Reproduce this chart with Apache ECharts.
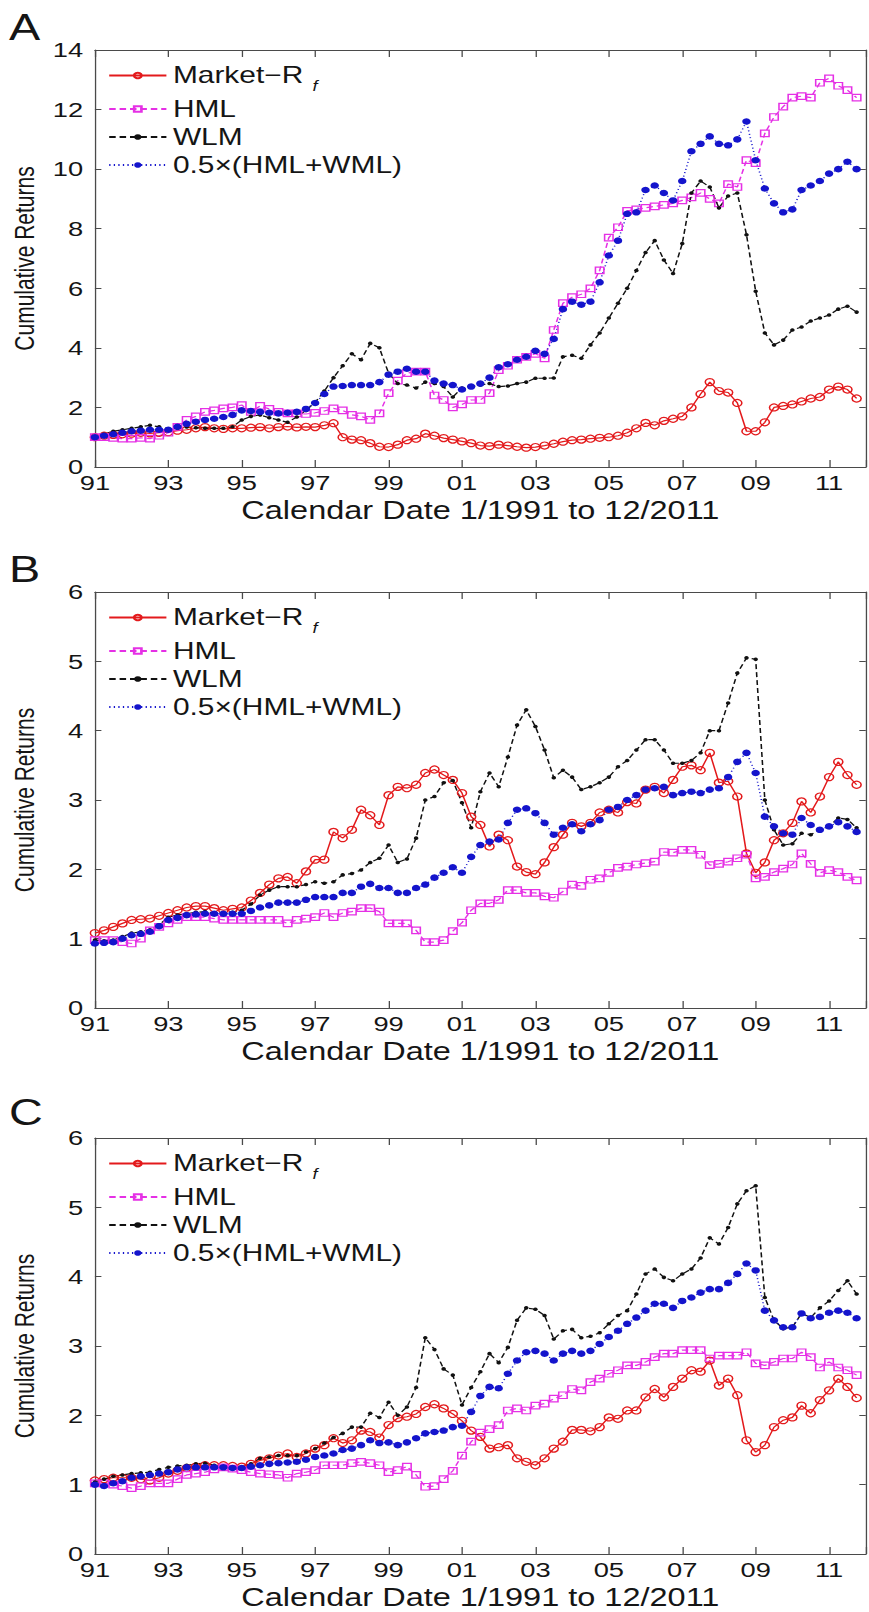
<!DOCTYPE html>
<html>
<head>
<meta charset="utf-8">
<title>Cumulative Returns 1991-2011</title>
<script src="https://cdn.jsdelivr.net/npm/echarts/dist/echarts.min.js"></script>
<style>
  html, body { margin: 0; padding: 0; background: #fff; overflow: hidden; }
  #stage { width: 869px; height: 1612px; overflow: hidden; position: relative; }
  /* the figure is laid out in a narrower frame and widened, like the printed figure */
  #chart { width: 669px; height: 1612px; transform: scaleX(1.3); transform-origin: 0 0; }
</style>
</head>
<body>
<div id="stage"><div id="chart"></div></div>
<script>
// Quarterly cumulative returns, 1991Q1 .. 2011Q4 (84 observations each)
const mktA = [1.00,1.05,1.08,1.10, 1.12,1.15,1.13,1.15, 1.17,1.22,1.25,1.30, 1.34,1.30,1.28,1.30, 1.30,1.32,1.34,1.30, 1.34,1.36,1.33,1.35, 1.34,1.40,1.47,1.00, 0.92,0.90,0.80,0.68, 0.67,0.75,0.90,0.95, 1.12,1.05,0.97,0.92, 0.86,0.80,0.72,0.70, 0.75,0.72,0.68,0.65, 0.67,0.72,0.78,0.85, 0.90,0.92,0.95,0.98, 1.00,1.05,1.15,1.30, 1.48,1.40,1.55,1.62, 1.70,2.00,2.45,2.85, 2.55,2.50,2.15,1.20, 1.20,1.50,2.00,2.05, 2.10,2.20,2.30,2.35, 2.60,2.70,2.60,2.30];
const hmlA = [1.00,1.00,0.98,0.95, 0.95,0.98,0.95,1.05, 1.15,1.35,1.58,1.70, 1.85,1.90,1.97,2.00, 2.08,1.85,2.05,1.95, 1.85,1.80,1.80,1.78, 1.82,1.88,1.97,1.90, 1.75,1.70,1.58,1.80, 2.48,2.90,3.15,3.20, 3.20,2.40,2.25,2.00, 2.10,2.25,2.25,2.48, 3.25,3.40,3.60,3.70, 3.80,3.65,4.60,5.50, 5.70,5.80,6.00,6.60, 7.70,8.05,8.60,8.65, 8.70,8.75,8.80,8.85, 8.95,9.05,9.20,9.00, 8.85,9.50,9.40,10.30, 10.20,11.20,11.75,12.10, 12.40,12.45,12.40,12.90, 13.05,12.80,12.65,12.40];
const wlmA = [1.00,1.10,1.20,1.25, 1.30,1.35,1.40,1.35, 1.28,1.30,1.34,1.32, 1.30,1.30,1.30,1.35, 1.58,1.70,1.75,1.65, 1.58,1.50,1.68,1.90, 2.17,2.55,3.00,3.40, 3.80,3.60,4.15,4.00, 3.15,2.80,2.75,2.65, 2.85,2.80,2.70,2.35, 2.65,2.70,2.75,2.80, 2.70,2.72,2.80,2.85, 2.98,2.98,2.99,3.70, 3.75,3.65,4.10,4.50, 5.00,5.50,6.00,6.60, 7.20,7.60,6.95,6.50, 7.50,9.20,9.60,9.40, 8.70,9.10,9.20,7.80, 5.90,4.50,4.10,4.26, 4.60,4.70,4.90,5.00, 5.10,5.30,5.40,5.20];
const mixA = [1.00,1.05,1.10,1.15, 1.20,1.22,1.25,1.25, 1.25,1.35,1.45,1.52, 1.58,1.62,1.68,1.75, 1.90,1.88,1.85,1.82, 1.80,1.82,1.85,1.95, 2.15,2.45,2.70,2.72, 2.75,2.75,2.75,2.85, 3.10,3.20,3.30,3.20, 3.20,2.90,2.80,2.75, 2.60,2.70,2.80,3.00, 3.35,3.45,3.60,3.70, 3.90,3.80,4.30,5.30, 5.55,5.45,5.55,6.20, 7.10,7.60,8.50,8.55, 9.30,9.45,9.20,8.95, 9.60,10.60,10.85,11.10, 10.85,10.80,11.00,11.60, 10.30,9.35,8.85,8.55, 8.65,9.30,9.45,9.60, 9.85,10.00,10.25,10.00];

const mktB = [1.08,1.12,1.17,1.22, 1.27,1.28,1.29,1.33, 1.37,1.41,1.45,1.47, 1.47,1.44,1.41,1.43, 1.45,1.55,1.66,1.78, 1.87,1.89,1.80,1.97, 2.14,2.14,2.54,2.45, 2.57,2.86,2.78,2.64, 3.07,3.19,3.17,3.22, 3.39,3.44,3.36,3.29, 3.10,2.76,2.64,2.33, 2.50,2.42,2.04,1.96, 1.93,2.10,2.32,2.50, 2.67,2.62,2.67,2.82, 2.86,2.82,2.97,2.95, 3.15,3.19,3.10,3.29, 3.48,3.50,3.43,3.68, 3.25,3.27,3.05,2.23, 1.95,2.10,2.42,2.52, 2.67,2.98,2.82,3.05, 3.33,3.55,3.36,3.22];
const hmlB = [0.98,0.98,0.98,0.95, 0.93,1.00,1.12,1.17, 1.22,1.27,1.31,1.31, 1.31,1.29,1.27,1.27, 1.27,1.27,1.27,1.27, 1.27,1.22,1.27,1.29, 1.31,1.37,1.31,1.37, 1.39,1.44,1.44,1.39, 1.22,1.22,1.22,1.12, 0.95,0.95,0.98,1.11, 1.23,1.41,1.51,1.51, 1.56,1.70,1.70,1.66, 1.66,1.61,1.59,1.68, 1.78,1.76,1.85,1.87, 1.95,2.02,2.04,2.07, 2.09,2.11,2.25,2.24, 2.28,2.28,2.21,2.06, 2.08,2.11,2.16,2.21, 1.87,1.89,1.96,2.01, 2.07,2.23,2.08,1.95, 1.99,1.96,1.89,1.84];
const wlmB = [0.98,0.97,0.98,1.03, 1.08,1.10,1.13,1.20, 1.31,1.34,1.36,1.38, 1.39,1.37,1.36,1.38, 1.41,1.50,1.63,1.70, 1.75,1.75,1.75,1.78, 1.82,1.80,1.82,1.92, 1.94,1.99,2.10,2.16, 2.35,2.10,2.15,2.45, 3.00,3.05,3.25,3.28, 2.96,2.60,3.12,3.39, 3.19,3.62,4.08,4.30, 4.06,3.72,3.32,3.43, 3.33,3.15,3.19,3.25, 3.33,3.48,3.57,3.72, 3.87,3.87,3.72,3.53, 3.53,3.57,3.68,4.00, 4.00,4.40,4.83,5.05, 5.03,3.00,2.57,2.35, 2.37,2.52,2.50,2.57, 2.62,2.74,2.72,2.60];
const mixB = [0.93,0.94,0.95,1.00, 1.05,1.07,1.10,1.18, 1.27,1.30,1.34,1.35, 1.36,1.36,1.36,1.36, 1.36,1.40,1.45,1.48, 1.52,1.52,1.52,1.56, 1.60,1.60,1.60,1.66, 1.66,1.75,1.79,1.73, 1.73,1.66,1.66,1.73, 1.78,1.88,1.95,2.03, 1.95,2.18,2.35,2.40, 2.43,2.67,2.86,2.88, 2.81,2.67,2.50,2.60, 2.65,2.55,2.65,2.71, 2.86,2.90,3.00,3.07, 3.15,3.17,3.19,3.07, 3.10,3.12,3.10,3.15, 3.17,3.33,3.55,3.68, 3.39,2.76,2.62,2.52, 2.50,2.74,2.64,2.57, 2.62,2.68,2.62,2.54];

const mktC = [1.06,1.08,1.10,1.10, 1.10,1.08,1.06,1.10, 1.16,1.20,1.24,1.26, 1.28,1.28,1.28,1.27, 1.26,1.30,1.35,1.38, 1.42,1.45,1.40,1.45, 1.52,1.57,1.67,1.60, 1.64,1.78,1.76,1.68, 1.86,1.96,1.98,2.02, 2.12,2.16,2.10,2.02, 1.92,1.78,1.69,1.52, 1.54,1.57,1.38,1.33, 1.28,1.38,1.52,1.62, 1.79,1.79,1.77,1.83, 1.97,1.95,2.07,2.07, 2.26,2.38,2.26,2.41, 2.53,2.65,2.63,2.79, 2.43,2.53,2.29,1.64, 1.47,1.57,1.83,1.93, 1.97,2.14,2.03,2.22, 2.36,2.53,2.41,2.25];
const hmlC = [1.02,1.02,1.00,0.98, 0.95,0.98,1.02,1.02, 1.02,1.08,1.14,1.16, 1.18,1.22,1.25,1.23, 1.21,1.18,1.16,1.15, 1.14,1.10,1.16,1.18, 1.21,1.28,1.28,1.28, 1.31,1.33,1.31,1.28, 1.18,1.21,1.26,1.14, 0.97,0.98,1.08,1.20, 1.42,1.62,1.75,1.80, 1.86,2.07,2.10,2.07, 2.14,2.17,2.24,2.29, 2.38,2.36,2.48,2.53, 2.60,2.65,2.72,2.72, 2.77,2.84,2.89,2.89, 2.94,2.94,2.94,2.82, 2.86,2.86,2.86,2.91, 2.75,2.72,2.77,2.82, 2.82,2.91,2.84,2.69, 2.77,2.69,2.65,2.58];
const wlmC = [1.04,1.08,1.12,1.14, 1.16,1.17,1.18,1.22, 1.25,1.27,1.28,1.30, 1.31,1.28,1.25,1.25, 1.25,1.30,1.38,1.40, 1.42,1.42,1.42,1.47, 1.52,1.60,1.68,1.74, 1.83,1.83,2.03,1.97, 2.19,2.00,2.12,2.40, 3.12,2.95,2.67,2.58, 2.15,2.40,2.63,2.89, 2.76,2.98,3.37,3.55, 3.53,3.44,3.10,3.22, 3.24,3.12,3.14,3.19, 3.32,3.44,3.51,3.75, 4.04,4.11,3.99,3.94, 4.04,4.11,4.27,4.56, 4.47,4.71,5.05,5.24, 5.31,3.70,3.37,3.25, 3.27,3.47,3.41,3.55, 3.65,3.80,3.94,3.75];
const mixC = [1.00,0.98,1.02,1.05, 1.10,1.12,1.14,1.16, 1.18,1.22,1.25,1.25, 1.25,1.25,1.25,1.24, 1.24,1.26,1.28,1.30, 1.31,1.32,1.33,1.36, 1.40,1.42,1.45,1.50, 1.52,1.57,1.64,1.60, 1.61,1.57,1.61,1.67, 1.74,1.76,1.78,1.83, 1.85,2.05,2.28,2.41, 2.39,2.60,2.79,2.91, 2.93,2.89,2.79,2.89, 2.93,2.89,2.93,3.03, 3.13,3.22,3.32,3.41, 3.51,3.61,3.61,3.55, 3.65,3.70,3.77,3.82, 3.82,3.91,4.04,4.19, 4.09,3.51,3.37,3.27, 3.27,3.47,3.40,3.42, 3.48,3.51,3.48,3.40];

// Axis tick labels (x ticks every two years from Jan 1991)
const xTickLabels = ['91', '93', '95', '97', '99', '01', '03', '05', '07', '09', '11'];
const seriesNames = ['Market-Rf', 'HML', 'WLM', '0.5×(HML+WML)'];
const panelLetters = ['A', 'B', 'C'];
const yMaxes = [14, 6, 6];
const yIntervals = [2, 1, 1];

const panelData = [
  [mktA, hmlA, wlmA, mixA],
  [mktB, hmlB, wlmB, mixB],
  [mktC, hmlC, wlmC, mixC]
];

// time of each observation, in years after January 1991
const quarterOffsets = mktA.map((_, i) => i / 4);

const FONT = '"Liberation Sans", Arial, Helvetica, sans-serif';
const AXIS_COLOR = '#4a4a4a';
const TEXT_COLOR = '#151515';

const seriesStyles = [
  { color: '#e31a1c', lineType: 'solid', symbol: 'circle', size: 7, hollow: true },
  { color: '#e530e5', lineType: [5, 3], symbol: 'rect', size: 6.5, hollow: true },
  { color: '#111111', lineType: [5, 3], symbol: 'circle', size: 3.5, hollow: false },
  { color: '#1414cc', lineType: [1, 2.5], symbol: 'circle', size: 6.5, hollow: false }
];

const panels = [
  { top: 50, height: 417, legendTop: 64, letterTop: 9 },
  { top: 592, height: 416, legendTop: 606, letterTop: 551 },
  { top: 1138, height: 416, legendTop: 1152, letterTop: 1094 }
];

const grid = [], xAxis = [], yAxis = [], series = [], legend = [], title = [];

panels.forEach((p, pi) => {
  grid.push({ left: 71, right: -5, top: p.top, height: p.height, containLabel: false });

  const tickStyle = { lineStyle: { color: AXIS_COLOR, width: 1 } };
  // bottom and top x axes (box with inward ticks)
  xAxis.push({
    type: 'value', gridIndex: pi, min: 0, max: 21, interval: 2, position: 'bottom',
    axisLine: { show: true, onZero: false, lineStyle: { color: AXIS_COLOR, width: 1 } },
    axisTick: Object.assign({ show: true, inside: true, length: 7 }, tickStyle),
    splitLine: { show: false },
    axisLabel: {
      show: true, margin: 5, color: TEXT_COLOR, fontSize: 21, fontFamily: FONT,
      formatter: v => (v % 2 === 0 && xTickLabels[v / 2] !== undefined) ? xTickLabels[v / 2] : ''
    },
    name: 'Calendar Date 1/1991 to 12/2011', nameLocation: 'middle', nameGap: 31,
    nameTextStyle: { fontSize: 25, fontFamily: FONT, color: TEXT_COLOR }
  });
  xAxis.push({
    type: 'value', gridIndex: pi, min: 0, max: 21, interval: 2, position: 'top',
    axisLine: { show: true, onZero: false, lineStyle: { color: AXIS_COLOR, width: 1 } },
    axisTick: Object.assign({ show: true, inside: true, length: 7 }, tickStyle),
    splitLine: { show: false }, axisLabel: { show: false }
  });
  // left and right y axes
  yAxis.push({
    type: 'value', gridIndex: pi, min: 0, max: yMaxes[pi], interval: yIntervals[pi], position: 'left',
    axisLine: { show: true, onZero: false, lineStyle: { color: AXIS_COLOR, width: 1 } },
    axisTick: Object.assign({ show: true, inside: true, length: 5 }, tickStyle),
    splitLine: { show: false },
    axisLabel: { show: true, margin: 9, color: TEXT_COLOR, fontSize: 21, fontFamily: FONT },
    name: 'Cumulative Returns', nameLocation: 'middle', nameGap: 44,
    nameTextStyle: { fontSize: 21, fontFamily: FONT, color: TEXT_COLOR }
  });
  yAxis.push({
    type: 'value', gridIndex: pi, min: 0, max: yMaxes[pi], interval: yIntervals[pi], position: 'right',
    axisLine: { show: true, onZero: false, lineStyle: { color: AXIS_COLOR, width: 1 } },
    axisTick: Object.assign({ show: true, inside: true, length: 5 }, tickStyle),
    splitLine: { show: false }, axisLabel: { show: false }
  });

  panelData[pi].forEach((values, si) => {
    const st = seriesStyles[si];
    series.push({
      type: 'line', name: seriesNames[si],
      xAxisIndex: pi * 2, yAxisIndex: pi * 2,
      data: values.map((v, i) => [quarterOffsets[i], v]),
      symbol: st.symbol, symbolSize: st.size, showSymbol: true, showAllSymbol: true,
      lineStyle: { color: st.color, width: 1.2, type: st.lineType },
      itemStyle: st.hollow
        ? { color: 'rgba(255,255,255,0)', borderColor: st.color, borderWidth: 1.2 }
        : { color: st.color, borderWidth: 0 },
      emphasis: { disabled: true },
      animation: false, clip: true
    });
  });

  legend.push({
    orient: 'vertical', left: 83, top: p.legendTop, padding: 0,
    itemWidth: 44, itemHeight: 7, itemGap: 5, selectedMode: false,
    data: seriesNames,
    formatter: name => name === 'Market-Rf' ? '{m|Market\u2212R}{s|f}' : '{m|' + name + '}',
    textStyle: {
      color: TEXT_COLOR, fontFamily: FONT, fontSize: 23,
      rich: {
        m: { fontSize: 23, fontFamily: FONT, color: TEXT_COLOR, lineHeight: 26 },
        s: { fontSize: 14, fontFamily: FONT, fontStyle: 'italic', color: TEXT_COLOR, padding: [20, 0, 0, 7] }
      }
    }
  });

  title.push({
    text: panelLetters[pi], left: 7, top: p.letterTop, padding: 0,
    textStyle: { fontSize: 36, fontWeight: 'normal', fontFamily: FONT, color: TEXT_COLOR }
  });
});

const chart = echarts.init(document.getElementById('chart'), null, { renderer: 'svg' });
chart.setOption({
  animation: false,
  backgroundColor: '#ffffff',
  title, grid, xAxis, yAxis, legend, series
});
</script>
</body>
</html>
